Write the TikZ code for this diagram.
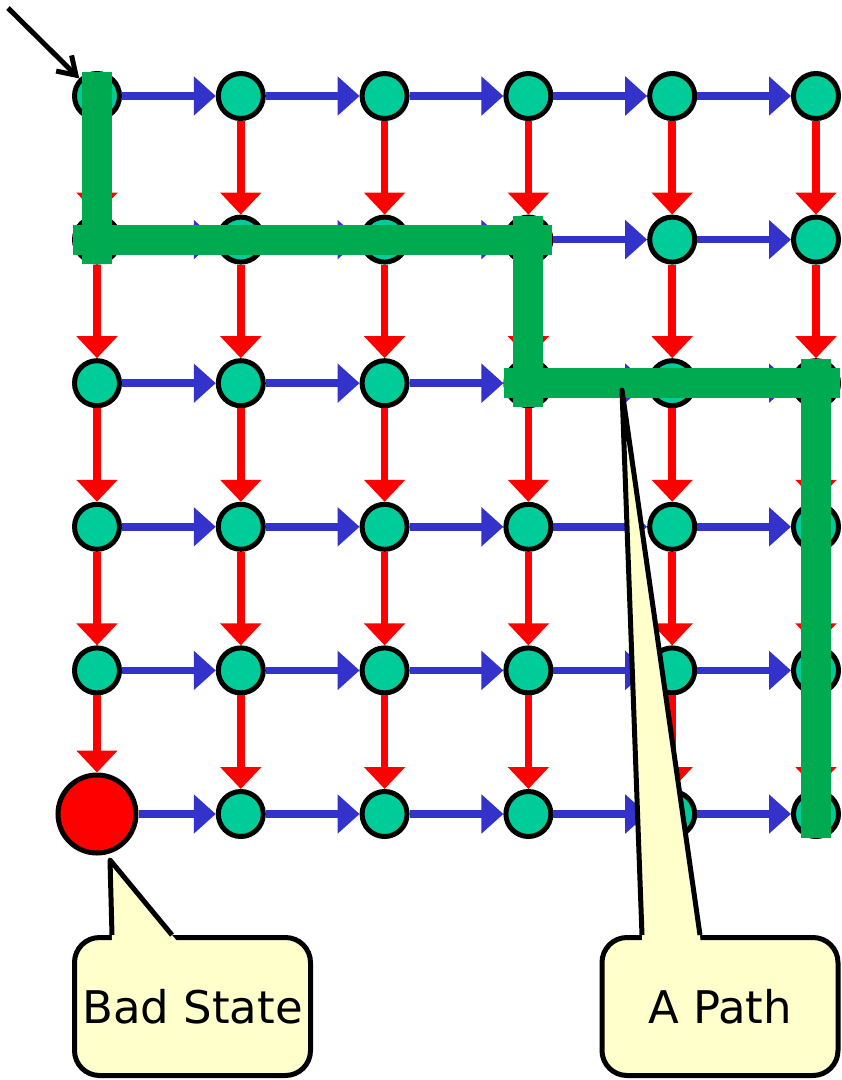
\documentclass[tikz,border=0pt]{standalone}
\usepackage{fontspec}
\setmainfont{DejaVu Sans}
\usetikzlibrary{arrows.meta}
\definecolor{statefill}{RGB}{0,204,153}
\definecolor{hedge}{RGB}{51,51,204}
\definecolor{vedge}{RGB}{255,0,0}
\definecolor{pathgreen}{RGB}{0,170,80}
\definecolor{notefill}{RGB}{255,255,204}
\begin{document}
\begin{tikzpicture}[x=1pt,y=-1pt,
  state/.style={circle, draw=black, line width=5pt, fill=statefill, minimum size=45pt, inner sep=0pt},
  badstate/.style={circle, draw=black, line width=5pt, fill=red, minimum size=78pt, inner sep=0pt},
  hstep/.style={draw=hedge, line width=7.5pt, -{Triangle[length=22pt,width=38pt]}},
  vstep/.style={draw=vedge, line width=7.5pt, -{Triangle[length=22pt,width=40pt]}},
  route/.style={draw=pathgreen, line width=30pt, shorten <=-24pt, shorten >=-24pt},
  entryarrow/.style={draw=black, line width=5pt, -{Straight Barb[length=17pt,width=22pt]}},
  notebox/.style={draw=black, fill=notefill, line width=5pt, rounded corners=25pt,
    minimum width=236pt, minimum height=138pt, inner sep=0pt,
    font=\fontsize{45}{52}\selectfont},
  pointerline/.style={draw=black, line width=5pt, line join=round},
]
\useasboundingbox (0,0) rectangle (842,1080);

% states of the 6x6 grid
\foreach \r in {1,...,6}{
  \foreach \c in {1,...,6}{
    \pgfmathsetmacro{\px}{97+(\c-1)*143.8}
    \pgfmathsetmacro{\py}{96+(\r-1)*143.6}
    \ifnum\r=6 \ifnum\c=1
      \node[badstate] (n-\r-\c) at (\px,\py) {};
    \else
      \node[state] (n-\r-\c) at (\px,\py) {};
    \fi\else
      \node[state] (n-\r-\c) at (\px,\py) {};
    \fi
  }
}

% horizontal transitions
\foreach \r in {1,...,6}{
  \foreach \c [evaluate=\c as \cn using int(\c+1)] in {1,...,5}{
    \draw[hstep] (n-\r-\c) -- (n-\r-\cn);
  }
}
% vertical transitions
\foreach \c in {1,...,6}{
  \foreach \r [evaluate=\r as \rn using int(\r+1)] in {1,...,5}{
    \draw[vstep] (n-\r-\c) -- (n-\rn-\c);
  }
}

% initial state marker
\coordinate (entry) at (8,8);
\draw[entryarrow] (entry) -- (n-1-1);

% the highlighted path
\draw[route] (n-1-1.center) -- (n-2-1.center);
\draw[route] (n-2-1.center) -- (n-2-4.center);
\draw[route] (n-2-4.center) -- (n-3-4.center);
\draw[route] (n-3-4.center) -- (n-3-6.center);
\draw[route] (n-3-6.center) -- (n-6-6.center);

% callout: bad state
\node[notebox] (badnote) at (192.5,1006.5) {Bad State};
\coordinate (badtip) at (110,860);
\coordinate (badl) at (112,935);
\coordinate (badr) at (172,935);
\fill[notefill] (112,941) -- (badtip) -- (badr) -- (177,941) -- cycle;
\draw[pointerline] (badl) -- (badtip) -- (badr);

% callout: a path
\node[notebox] (pathnote) at (720,1006.5) {A Path};
\coordinate (pathtip) at (622,390);
\coordinate (pathl) at (642,935);
\coordinate (pathr) at (700,935);
\fill[notefill] (642.2,941) -- (pathtip) -- (pathr) -- (700.5,941) -- cycle;
\draw[pointerline] (pathl) -- (pathtip) -- (pathr);
\end{tikzpicture}
\end{document}
